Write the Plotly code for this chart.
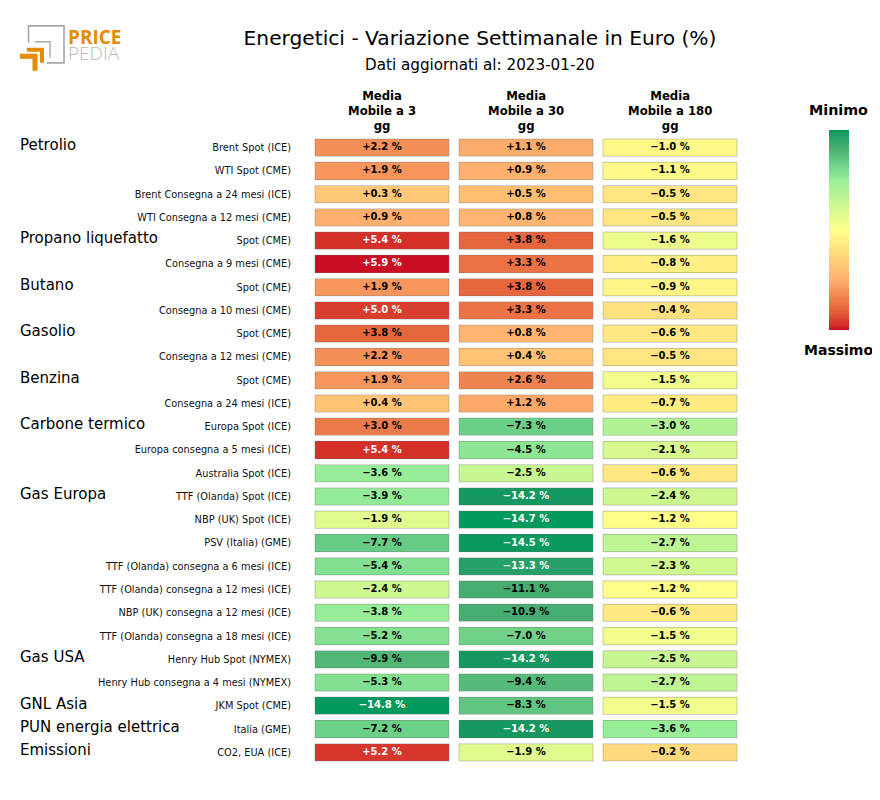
import numpy as np
import plotly.graph_objects as go

W, H = 864, 784   # page body adds an 8 px margin
OFF = 8
groups = ["Petrolio", "Propano liquefatto", "Butano", "Gasolio", "Benzina", "Carbone termico",
          "Gas Europa", "Gas USA", "GNL Asia", "PUN energia elettrica", "Emissioni"]
group_rows = [0, 4, 6, 8, 10, 12, 15, 22, 24, 25, 26]
rows = ["Brent Spot (ICE)", "WTI Spot (CME)", "Brent Consegna a 24 mesi (ICE)", "WTI Consegna a 12 mesi (CME)",
        "Spot (CME)", "Consegna a 9 mesi (CME)", "Spot (CME)", "Consegna a 10 mesi (CME)",
        "Spot (CME)", "Consegna a 12 mesi (CME)", "Spot (CME)", "Consegna a 24 mesi (ICE)",
        "Europa Spot (ICE)", "Europa consegna a 5 mesi (ICE)", "Australia Spot (ICE)",
        "TTF (Olanda) Spot (ICE)", "NBP (UK) Spot (ICE)", "PSV (Italia) (GME)",
        "TTF (Olanda) consegna a 6 mesi (ICE)", "TTF (Olanda) consegna a 12 mesi (ICE)",
        "NBP (UK) consegna a 12 mesi (ICE)", "TTF (Olanda) consegna a 18 mesi (ICE)",
        "Henry Hub Spot (NYMEX)", "Henry Hub consegna a 4 mesi (NYMEX)", "JKM Spot (CME)",
        "Italia (GME)", "CO2, EUA (ICE)"]
columns = ["Media<br>Mobile a 3<br>gg", "Media<br>Mobile a 30<br>gg", "Media<br>Mobile a 180<br>gg"]
ma3 = [2.2, 1.9, 0.3, 0.9, 5.4, 5.9, 1.9, 5.0, 3.8, 2.2, 1.9, 0.4, 3.0, 5.4, -3.6, -3.9, -1.9, -7.7,
       -5.4, -2.4, -3.8, -5.2, -9.9, -5.3, -14.8, -7.2, 5.2]
ma30 = [1.1, 0.9, 0.5, 0.8, 3.8, 3.3, 3.8, 3.3, 0.8, 0.4, 2.6, 1.2, -7.3, -4.5, -2.5, -14.2, -14.7, -14.5,
        -13.3, -11.1, -10.9, -7.0, -14.2, -9.4, -8.3, -14.2, -1.9]
ma180 = [-1.0, -1.1, -0.5, -0.5, -1.6, -0.8, -0.9, -0.4, -0.6, -0.5, -1.5, -0.7, -3.0, -2.1, -0.6, -2.4, -1.2,
         -2.7, -2.3, -1.2, -0.6, -1.5, -2.5, -2.7, -1.5, -3.6, -0.2]

# value -> position on the colour ramp (0 = Massimo, 1 = Minimo)
ramp_values = [-14.8, -3.6, -1.2, 0.9, 5.9]
ramp_pos = [1.0, 0.75, 0.5, 0.25, 0.0]
colorscale = [[0, "#c90d24"], [0.025, "#d42f28"], [0.1, "#e5633b"], [0.25, "#ffb06e"], [0.5, "#ffff8a"],
              [0.75, "#98ee98"], [0.8326, "#6ccf88"], [0.879, "#55bb7a"], [0.917, "#45ad70"],
              [0.9665, "#25a068"], [0.9866, "#14985f"], [1, "#009a5e"]]

values = np.array([ma3, ma30, ma180], dtype=float).T
ramp = np.interp(values, ramp_values, ramp_pos)
labels = [[f"{'+' if v > 0 else '−'}{abs(v):.1f} %" for v in r] for r in values]
white = (values >= 5.0) | (values <= -13.0)

FONT = "DejaVu Sans"
L, R, T, B = 310, 742, 136.2, 764.4
def px(x): return (x - L) / (R - L)
def py(y): return (B - y) / (B - T)

n = len(rows)
rowpos = list(range(n))
fig = go.Figure()
fig.add_trace(go.Heatmap(
    z=ramp, x=[0, 1, 2], y=rowpos, xgap=10, ygap=6, zmin=0, zmax=1, colorscale=colorscale,
    customdata=values, hovertemplate="%{customdata:.1f} %<extra></extra>",
    colorbar=dict(thickness=20, thicknessmode="pixels", len=200, lenmode="pixels",
                  x=px(829), xanchor="left", xpad=0, y=py(130), yanchor="top", ypad=0,
                  showticklabels=False, ticks="", outlinewidth=0),
))
xs, ys, ts, cs = [], [], [], []
for i in range(n):
    for j in range(3):
        xs.append(j); ys.append(i); ts.append(labels[i][j])
        cs.append("white" if white[i, j] else "black")
fig.add_trace(go.Scatter(x=xs, y=ys, mode="text", text=ts, hoverinfo="skip", showlegend=False,
                         textfont=dict(family=FONT, size=10, color=cs, weight="bold")))
xm, ym = 5 / 144, 3 / 23.27
for i in range(n):
    for j in range(3):
        fig.add_shape(type="rect", xref="x", yref="y", x0=j - .5 + xm, x1=j + .5 - xm,
                      y0=i - .5 + ym, y1=i + .5 - ym,
                      line=dict(color="rgba(110,110,110,0.35)", width=1), layer="above")

ann = []
for g, r in zip(groups, group_rows):
    ann.append(dict(x=px(20), xref="paper", xanchor="left", xshift=-2, y=r - 0.1, yref="y", text=g, showarrow=False,
                    font=dict(family=FONT, size=15, color="black")))
for j, c in enumerate(columns):
    ann.append(dict(x=j, xref="x", y=py(135), yref="paper", yanchor="bottom", text=c, showarrow=False,
                    font=dict(family=FONT, size=11.7, color="black", weight="bold")))
def note(x, y, text, anchor="center", **font):
    ann.append(dict(x=px(x), y=py(y), xref="paper", yref="paper", xanchor=anchor, yanchor="middle",
                    text=text, showarrow=False, font=font))
note(480, 65, "Dati aggiornati al: 2023-01-20", family=FONT, size=15.2, color="black")
note(838, 110, "Minimo", family=FONT, size=14.3, color="black", weight="bold")
note(838, 350, "Massimo", family=FONT, size=14, color="black", weight="bold")
note(66, 37, "PRICE", "left", family="Open Sans", size=19, color="#e68a00", weight="bold")
note(66, 53, "PEDIA", "left", family="Open Sans", size=19, color="#b8b8b8", weight=300)

def path(points):
    return "M" + " L".join(f"{px(x):.4f},{py(y):.4f}" for x, y in points)
logo = [
    dict(path=path([(28.5, 43), (28.5, 26), (64, 26), (64, 63), (47, 63)]), line=dict(color="#a8a8a8", width=1.6)),
    dict(path=path([(35, 42), (50, 42), (50, 58)]), line=dict(color="#a8a8a8", width=1.4)),
    dict(path=path([(27, 50), (42, 50), (42, 63)]), line=dict(color="#e68a00", width=4)),
    dict(path=path([(20, 56.5), (35, 56.5), (35, 71)]), line=dict(color="#e68a00", width=5)),
]
for s in logo:
    fig.add_shape(type="path", xref="paper", yref="paper", **s)

fig.update_layout(
    width=W, height=H, autosize=False, paper_bgcolor="white", plot_bgcolor="white",
    margin=dict(l=L - OFF, r=W - (R - OFF), t=T - OFF, b=H - (B - OFF)),
    title=dict(text="Energetici - Variazione Settimanale in Euro (%)", x=(480 - OFF) / W, xanchor="center",
               y=1 - (38 - OFF) / H, yanchor="middle", xref="container", yref="container",
               font=dict(family=FONT, size=20.2, color="black")),
    font=dict(family=FONT),
    annotations=ann,
    xaxis=dict(range=[-0.5, 2.5], showticklabels=False, showgrid=False, zeroline=False, ticks=""),
    yaxis=dict(range=[n - 0.5, -0.5], tickmode="array", tickvals=rowpos, ticktext=rows, showgrid=False,
               zeroline=False, ticks="", ticklabelstandoff=18, tickfont=dict(family=FONT, size=9.8, color="#111")),
)
fig.write_html("out.html")
